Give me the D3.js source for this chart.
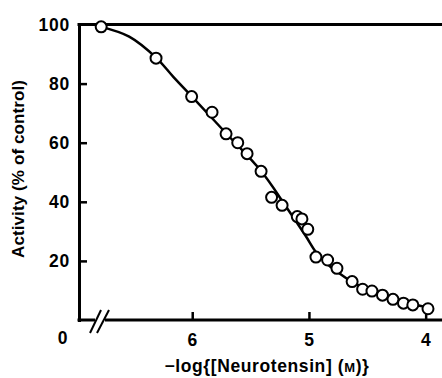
<!DOCTYPE html>
<html>
<head>
<meta charset="utf-8">
<script src="https://cdn.jsdelivr.net/npm/d3@7"></script>
<style>
  html, body { margin: 0; padding: 0; background: #fff; }
  svg { display: block; }
  text { font-family: "Liberation Sans", Arial, Helvetica, sans-serif; fill: #000; }
</style>
</head>
<body>
<div id="chart"></div>
<script>
// -log[NT] of each measured point, and activity (% of control)
const logConc = [6.78, 6.31, 6.005, 5.83, 5.71, 5.61, 5.53, 5.41, 5.32, 5.23, 5.10, 5.06,
  5.01, 4.94, 4.84, 4.76, 4.63, 4.54, 4.46, 4.37, 4.28, 4.19, 4.11, 3.98];
const activity = [99.2, 88.6, 75.6, 70.3, 63.0, 60.0, 56.3, 50.3, 41.5, 38.8, 35.0, 34.2,
  30.7, 21.3, 20.3, 17.5, 13.0, 10.4, 9.8, 8.4, 7.0, 5.7, 5.1, 3.8];

// fitted curve
const fitX = [6.78, 6.54, 6.31, 6.16, 6.0, 5.71, 5.41, 5.2, 5.03, 4.94, 4.85, 4.76, 4.63, 4.44, 4.23, 3.98];
const fitY = [99.2, 95.9, 88.8, 82.2, 75.5, 63.2, 50.4, 38.6, 28.6, 23.0, 19.2, 16.4, 12.9, 9.2, 6.5, 4.2];

const yTicks = [20, 40, 60, 80];
const xTicks = [6, 5, 4];

const width = 442, height = 378;
const marginLeft = 79, marginTop = 24.5, axisY = 320, marginRight = 442;

const svg = d3.select('#chart')
  .append('svg')
  .attr('width', width)
  .attr('height', height);

const x = d3.scaleLinear().domain([6.97, 3.86]).range([marginLeft, marginRight]);
const y = d3.scaleLinear().domain([0, 100]).range([axisY, marginTop]);

const styleTicks = sel => sel
  .attr('font-size', 17.5).attr('font-weight', 'bold')
  .attr('letter-spacing', 0.8)
  .attr('font-family', '"Liberation Sans", Arial, sans-serif');

// y axis, ticks pointing inwards
const yAxis = svg.append('g')
  .attr('transform', `translate(${marginLeft},0)`)
  .call(d3.axisLeft(y).tickValues(yTicks.concat([100])).tickSizeInner(-8).tickSizeOuter(0).tickPadding(9));
yAxis.select('.domain').attr('stroke-width', 3).attr('stroke-linecap', 'square');
yAxis.selectAll('.tick line').attr('stroke-width', 2.5)
  .filter(d => d === 100).remove();
yAxis.selectAll('.tick text').call(styleTicks);

// x axis, ticks pointing up; domain drawn by hand to leave the break
const xAxis = svg.append('g')
  .attr('transform', `translate(0,${axisY})`)
  .call(d3.axisBottom(x).tickValues(xTicks).tickFormat(d3.format('d')).tickSizeInner(-8).tickSizeOuter(0).tickPadding(14));
xAxis.select('.domain').remove();
xAxis.selectAll('.tick line').attr('stroke-width', 2.5);
xAxis.selectAll('.tick text').call(styleTicks);

const axisLines = svg.append('g').attr('stroke', '#000').attr('stroke-width', 3).attr('fill', 'none');
axisLines.append('line').attr('x1', marginLeft - 1.5).attr('x2', 95).attr('y1', axisY).attr('y2', axisY);
axisLines.append('line').attr('x1', 105).attr('x2', marginRight).attr('y1', axisY).attr('y2', axisY);
// top line at 100 %
axisLines.append('line').attr('x1', marginLeft - 1.5).attr('x2', marginRight).attr('y1', y(100)).attr('y2', y(100));

// axis break
const brk = svg.append('g').attr('stroke', '#000').attr('stroke-width', 2);
brk.append('line').attr('x1', 90).attr('y1', 333).attr('x2', 101).attr('y2', 310);
brk.append('line').attr('x1', 97).attr('y1', 333).attr('x2', 109).attr('y2', 310);

svg.append('text')
  .attr('x', 63).attr('y', 344)
  .attr('text-anchor', 'middle')
  .call(styleTicks)
  .text('0');

// fitted curve
const fit = fitX.map((v, i) => [v, fitY[i]]);
svg.append('path')
  .datum(fit)
  .attr('fill', 'none')
  .attr('stroke', '#000')
  .attr('stroke-width', 2.5)
  .attr('d', d3.line().x(d => x(d[0])).y(d => y(d[1])).curve(d3.curveCatmullRom));

// data points
svg.append('g')
  .selectAll('circle')
  .data(logConc.map((v, i) => [v, activity[i]]))
  .join('circle')
  .attr('cx', d => x(d[0]))
  .attr('cy', d => y(d[1]))
  .attr('r', 5.5)
  .attr('fill', '#fff')
  .attr('stroke', '#000')
  .attr('stroke-width', 2);

// axis titles
svg.append('text')
  .attr('transform', 'translate(24,169) rotate(-90)')
  .attr('text-anchor', 'middle')
  .attr('font-size', 17).attr('font-weight', 'bold')
  .attr('textLength', 178).attr('lengthAdjust', 'spacing')
  .text('Activity (% of control)');

const xt = svg.append('text')
  .attr('x', 267).attr('y', 372)
  .attr('text-anchor', 'middle')
  .attr('font-size', 17.5).attr('font-weight', 'bold')
  .attr('letter-spacing', 0.6);
xt.append('tspan').text('\u2212log{[Neurotensin] (');
xt.append('tspan').attr('font-size', 13).text('M');
xt.append('tspan').text(')}');
</script>
</body>
</html>
